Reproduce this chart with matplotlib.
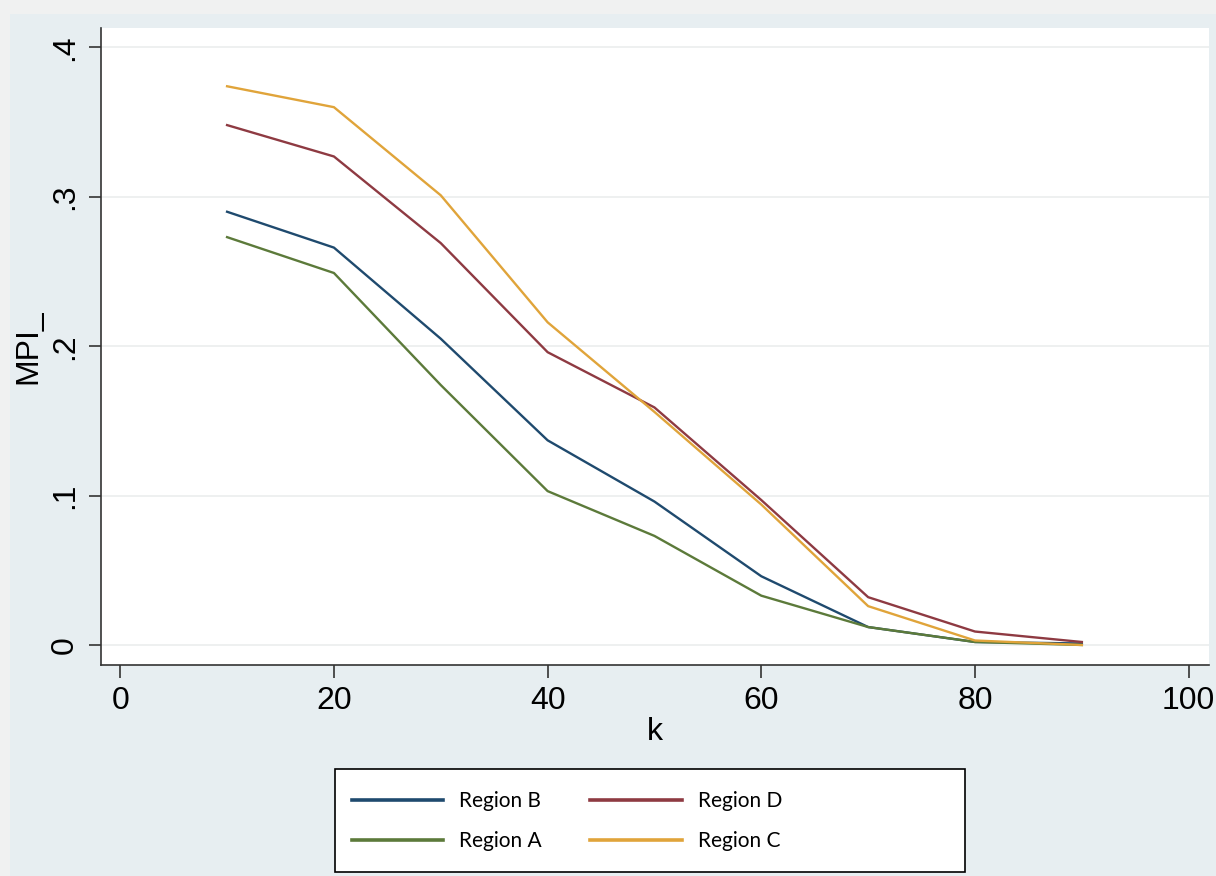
import numpy as np
import matplotlib.pyplot as plt
from matplotlib.patches import Rectangle

k = [10, 20, 30, 40, 50, 60, 70, 80, 90]
region_b = [0.290, 0.266, 0.205, 0.137, 0.096, 0.046, 0.012, 0.002, 0.001]
region_d = [0.348, 0.327, 0.269, 0.196, 0.159, 0.097, 0.032, 0.009, 0.002]
region_a = [0.273, 0.249, 0.174, 0.103, 0.073, 0.033, 0.012, 0.002, 0.000]
region_c = [0.374, 0.360, 0.301, 0.216, 0.156, 0.094, 0.026, 0.003, 0.000]

xticks = [0, 20, 40, 60, 80, 100]
yticks = [0, 0.1, 0.2, 0.3, 0.4]
ylabels = ['0', '.1', '.2', '.3', '.4']

plt.rcParams['font.family'] = ['Liberation Sans', 'DejaVu Sans']

W, H = 1216, 876
fig = plt.figure(figsize=(12.16, 8.76), dpi=100, facecolor='#f0f1f1')
fig.patches.append(Rectangle((10/W, 0), 1 - 10/W, 1 - 14/H, transform=fig.transFigure,
                             facecolor='#e7eef1', edgecolor='none', zorder=-1))

ax = fig.add_axes([101/W, 1 - 665/H, (1209 - 101)/W, (665 - 28)/H])
ax.set_facecolor('white')

ax.plot(k, region_b, color='#1f4a6e', lw=1.7, label='Region B')
ax.plot(k, region_a, color='#5c7a3a', lw=1.7, label='Region A')
ax.plot(k, region_d, color='#8e3a42', lw=1.7, label='Region D')
ax.plot(k, region_c, color='#e0a43a', lw=1.7, label='Region C')

ax.set_xlim(-1.8, 101.9)
ax.set_ylim(-0.0134, 0.413)
ax.set_xticks(xticks)
ax.set_yticks(yticks)
ax.set_yticklabels(ylabels, rotation=90, va='center')
ax.tick_params(labelsize=23, length=9, width=1.2, color='#333333', pad=6)
ax.grid(axis='y', color='#ebeeee', lw=1.2)
ax.set_axisbelow(True)
for s in ['top', 'right']:
    ax.spines[s].set_visible(False)
for s in ['left', 'bottom']:
    ax.spines[s].set_color('#333333')
    ax.spines[s].set_linewidth(1.2)

ax.set_xlabel('k', fontsize=23, labelpad=1)
ax.set_ylabel('MPI_', fontsize=23, labelpad=5)

# legend box drawn separately so it can be wider than its entries
fig.patches.append(Rectangle((335/W, 1 - 872/H), 630/W, 103/H, transform=fig.transFigure,
                             facecolor='white', edgecolor='black', lw=1.2, zorder=1))
leg = fig.legend(loc='center left', bbox_to_anchor=(337/W, 1 - 821/H), ncol=2,
                 prop={'family': 'Lato', 'size': 15}, frameon=False,
                 handlelength=4.4, columnspacing=2.3, handletextpad=0.77, labelspacing=0.95,
                 borderpad=0.2)
leg.set_zorder(2)
for line in leg.get_lines():
    line.set_linewidth(2.6)

fig.savefig('out.png', dpi=100, facecolor=fig.get_facecolor())
